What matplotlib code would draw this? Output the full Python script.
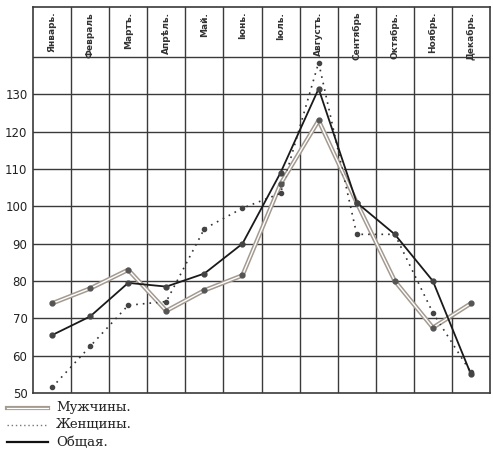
import numpy as np
from matplotlib import pyplot as plt
from matplotlib.lines import Line2D

months = ['Январь.', 'Февраль', 'Мартъ.', 'Апрѣль.', 'Май.', 'Іюнь.',
          'Іюль.', 'Августъ.', 'Сентябрь', 'Октябрь.', 'Ноябрь.', 'Декабрь.']
men = [74, 78, 83, 72, 77.5, 81.5, 106, 123, 101, 80, 67.5, 74]
women = [51.5, 62.5, 73.5, 74.5, 94, 99.5, 103.5, 138.5, 92.5, 92.5, 71.5, 55.5]
total = [65.5, 70.5, 79.5, 78.5, 82, 90, 109, 131.5, 101, 92.5, 80, 55]
yticks = [50, 60, 70, 80, 90, 100, 110, 120, 130]
legend_labels = ['Мужчины.', 'Женщины.', 'Общая.']

W, H = 493, 453
fig = plt.figure(figsize=(W/100, H/100), dpi=100)
ax = fig.add_axes([33/W, 1-393/H, 457/W, 386/H])

x = np.arange(len(months)) + 0.5
ytop = 140 + 50/37.33*10
ax.set_xlim(0, 12)
ax.set_ylim(50, ytop)

grid = '#3a3a3a'
for v in range(1, 12):
    ax.axvline(v, color=grid, lw=1.0, zorder=1)
for v in range(60, 141, 10):
    ax.axhline(v, color=grid, lw=1.0, zorder=1)
for s in ax.spines.values():
    s.set_color(grid)
    s.set_linewidth(1.2)

ax.set_xticks([])
ax.set_yticks(yticks)
ax.set_yticklabels([str(v) for v in yticks], fontsize=8.5, color='#222')
ax.tick_params(axis='y', length=0, pad=4)

# header with month names
for xi, m in zip(x, months):
    ax.text(xi, ytop - 1.3, m, rotation=90, ha='center', va='top',
            fontsize=6.5, fontweight='bold', color='#333')

# men: double grey line
ax.plot(x, men, color='#a39a90', lw=3.2, zorder=3, solid_capstyle='butt')
ax.plot(x, men, color='white', lw=1.0, zorder=4)
ax.plot(x, men, 'o', color='#555', ms=3.5, zorder=5)

# women: dotted
ax.plot(x, women, color='#333', lw=1.2, ls=(0, (1, 3)), zorder=3)
ax.plot(x, women, 'o', color='#444', ms=3, zorder=5)

# total: solid black
ax.plot(x, total, color='#1a1a1a', lw=1.3, zorder=4)
ax.plot(x, total, 'o', color='#444', ms=3.5, zorder=5)

# legend drawn below the chart
ys = [408, 425, 442]
x0, x1 = 7/W, 48/W
fig.add_artist(Line2D([x0, x1], [1-ys[0]/H]*2, color='#a39a90', lw=3))
fig.add_artist(Line2D([x0, x1], [1-ys[0]/H]*2, color='white', lw=0.9))
fig.add_artist(Line2D([x0, x1], [1-ys[1]/H]*2, color='#777', lw=1, ls=(0, (1, 2))))
fig.add_artist(Line2D([x0, x1], [1-ys[2]/H]*2, color='#111', lw=1.6))
for yy, lab in zip(ys, legend_labels):
    fig.text(56/W, 1-yy/H, lab, ha='left', va='center', fontsize=9.5,
             family='DejaVu Serif', color='#222')

fig.savefig('out.png', dpi=100)
